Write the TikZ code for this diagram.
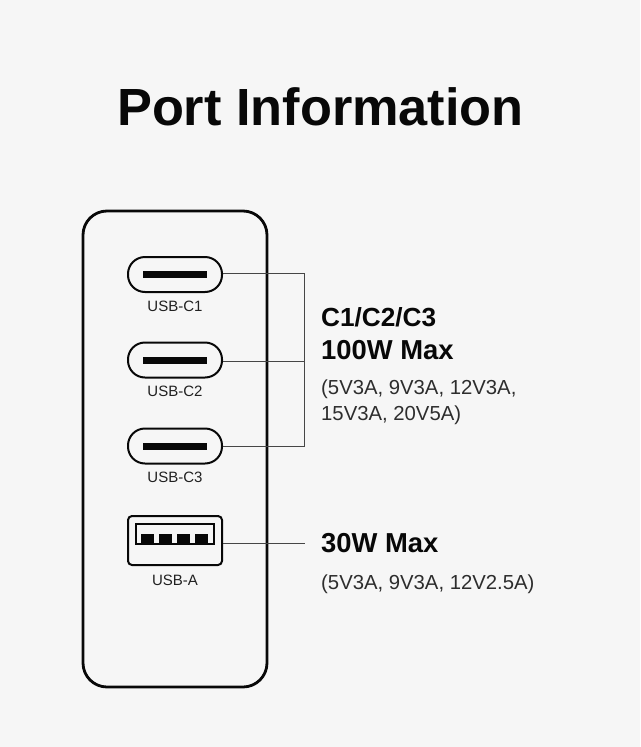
\documentclass[tikz,border=0pt]{standalone}
\usepackage{xcolor}
\usepackage{fontspec}
\setmainfont{Liberation Sans}
\usetikzlibrary{positioning,calc}
\definecolor{paper}{RGB}{246,246,246}
\definecolor{inkblack}{RGB}{8,8,8}
\definecolor{wiregray}{RGB}{70,70,70}
\newcommand{\portname}[1]{{\fontsize{15}{18}\selectfont\color{inkblack!90}#1}}
\begin{document}
\begin{tikzpicture}[
  x=1pt,y=-1pt,
  body/.style={rectangle,rounded corners=24pt,draw=inkblack,line width=2.8pt,
    minimum width=184pt,minimum height=476pt,inner sep=0pt},
  cport/.style={rectangle,rounded corners=17pt,draw=inkblack,line width=2pt,
    minimum width=94pt,minimum height=35pt,inner sep=0pt},
  aport/.style={rectangle,rounded corners=4pt,draw=inkblack,line width=2pt,
    minimum width=94pt,minimum height=49pt,inner sep=0pt},
  ashell/.style={rectangle,draw=inkblack,line width=1.8pt,
    minimum width=78pt,minimum height=20pt,inner sep=0pt},
  slot/.style={rectangle,fill=inkblack,minimum width=64pt,minimum height=7pt,inner sep=0pt},
  pad/.style={rectangle,fill=inkblack,minimum width=13pt,minimum height=10pt,inner sep=0pt},
  wire/.style={draw=wiregray,line width=1pt},
  power/.style={anchor=base west,inner sep=0pt,text=inkblack,font=\fontsize{27.4}{30}\selectfont\bfseries},
  volts/.style={anchor=base west,inner sep=0pt,text=inkblack!85,font=\fontsize{20.3}{24}\selectfont}
]
\useasboundingbox[fill=paper] (0,0) rectangle (640,747);
\node[anchor=base,inner sep=0pt,text=inkblack,font=\fontsize{52.3}{60}\selectfont\bfseries] (title) at (320.5,125) {Port Information};
\node[body] (charger) at (175,449) {};
% ports
\node[cport] (c1) at (175,274.5) {};
\node[cport] (c2) at (175,360) {};
\node[cport] (c3) at (175,446) {};
\node[slot] (s1) at (c1) {};
\node[slot] (s2) at (c2) {};
\node[slot] (s3) at (c3) {};
\node[aport] (a1) at (175,540.5) {};
\node[ashell] (shell) at (175,534) {};
\foreach \i/\x in {1/147.5,2/165.5,3/183.5,4/201.5}
  \node[pad] (p\i) at (\x,539) {};
\node[anchor=base,inner sep=0pt] (l1) at (175,311) {\portname{USB-C1}};
\node[anchor=base,inner sep=0pt] (l2) at (175,396) {\portname{USB-C2}};
\node[anchor=base,inner sep=0pt] (l3) at (175,482) {\portname{USB-C3}};
\node[anchor=base,inner sep=0pt] (l4) at (175,585) {\portname{USB-A}};
% connectors
\coordinate (j1) at (304.5,273.5);
\coordinate (j2) at (304.5,361.5);
\coordinate (j3) at (304.5,446.5);
\coordinate (j4) at (304.5,543.5);
\draw[wire] (c1.east |- j1) -- (j1) -- (j3) -- (c3.east |- j3);
\draw[wire] (c2.east |- j2) -- (j2);
\draw[wire] (a1.east |- j4) -- (j4);
% text
\node[power,font=\fontsize{26.2}{30}\selectfont\bfseries] (t1) at (321,326) {C1/C2/C3};
\node[power] (t2) at (321,359) {100W Max};
\node[volts] (t3) at (321,394) {(5V3A, 9V3A, 12V3A,};
\node[volts] (t4) at (321,420) {15V3A, 20V5A)};
\node[power] (t5) at (321,552) {30W Max};
\node[volts] (t6) at (321,589) {(5V3A, 9V3A, 12V2.5A)};
\end{tikzpicture}
\end{document}
